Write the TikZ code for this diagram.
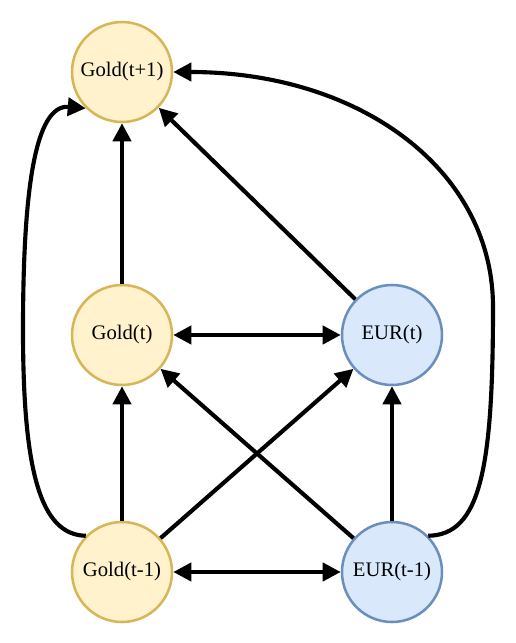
\documentclass[tikz,border=0pt]{standalone}
\usepackage{fontspec}
\setmainfont{Liberation Serif}
\usetikzlibrary{arrows.meta,shapes}

\definecolor{goldfill}{HTML}{FFF2CC}
\definecolor{golddraw}{HTML}{D6B656}
\definecolor{eurfill}{HTML}{DAE8FC}
\definecolor{eurdraw}{HTML}{6C8EBF}

\begin{document}
\begin{tikzpicture}[x=0.75pt, y=-0.75pt, gold/.style = {circle, draw=golddraw, fill=goldfill, line width=1.9pt, minimum size=75pt, inner sep=0pt, font=\fontsize{15.5}{18}\selectfont}, eur/.style = {circle, draw=eurdraw, fill=eurfill, line width=1.9pt, minimum size=75pt, inner sep=0pt, font=\fontsize{15.5}{18}\selectfont}, line/.style = {draw, line width=3.1pt, -{Triangle[length=13.5pt,width=13.5pt]}}, dline/.style = {line, {Triangle[length=13.5pt,width=13.5pt]}-{Triangle[length=13.5pt,width=13.5pt]}}]
			\useasboundingbox (0,0) rectangle (515,643);
			\node[gold] (goldnext) at (122,72) {Gold(t+1)};
			\node[gold] (goldnow) at (122,335) {Gold(t)};
			\node[eur] (eurnow) at (392,335) {EUR(t)};
			\node[gold] (goldprev) at (122,572) {Gold(t-1)};
			\node[eur] (eurprev) at (392,572) {EUR(t-1)};
			
			\path[line] (goldnow) -- (goldnext);
			\path[line] (eurnow) -- (goldnext);
			\path[dline] (goldnow) -- (eurnow);
			\path[line] (goldprev) -- (goldnow);
			\path[line] (goldprev) -- (eurnow);
			\path[line] (eurprev) -- (eurnow);
			\path[line] (eurprev) -- (goldnow);
			\path[dline] (goldprev) -- (eurprev);
			\path[line] (goldprev.135) .. controls (40,535) and (23,470) .. (23,330) .. controls (23,190) and (35,104) .. (goldnext.225);
			\path[line] (eurprev.45) .. controls (480,535) and (493,470) .. (493,307) .. controls (493,170) and (360,72) .. (goldnext.east);
			\end{tikzpicture}
\end{document}
